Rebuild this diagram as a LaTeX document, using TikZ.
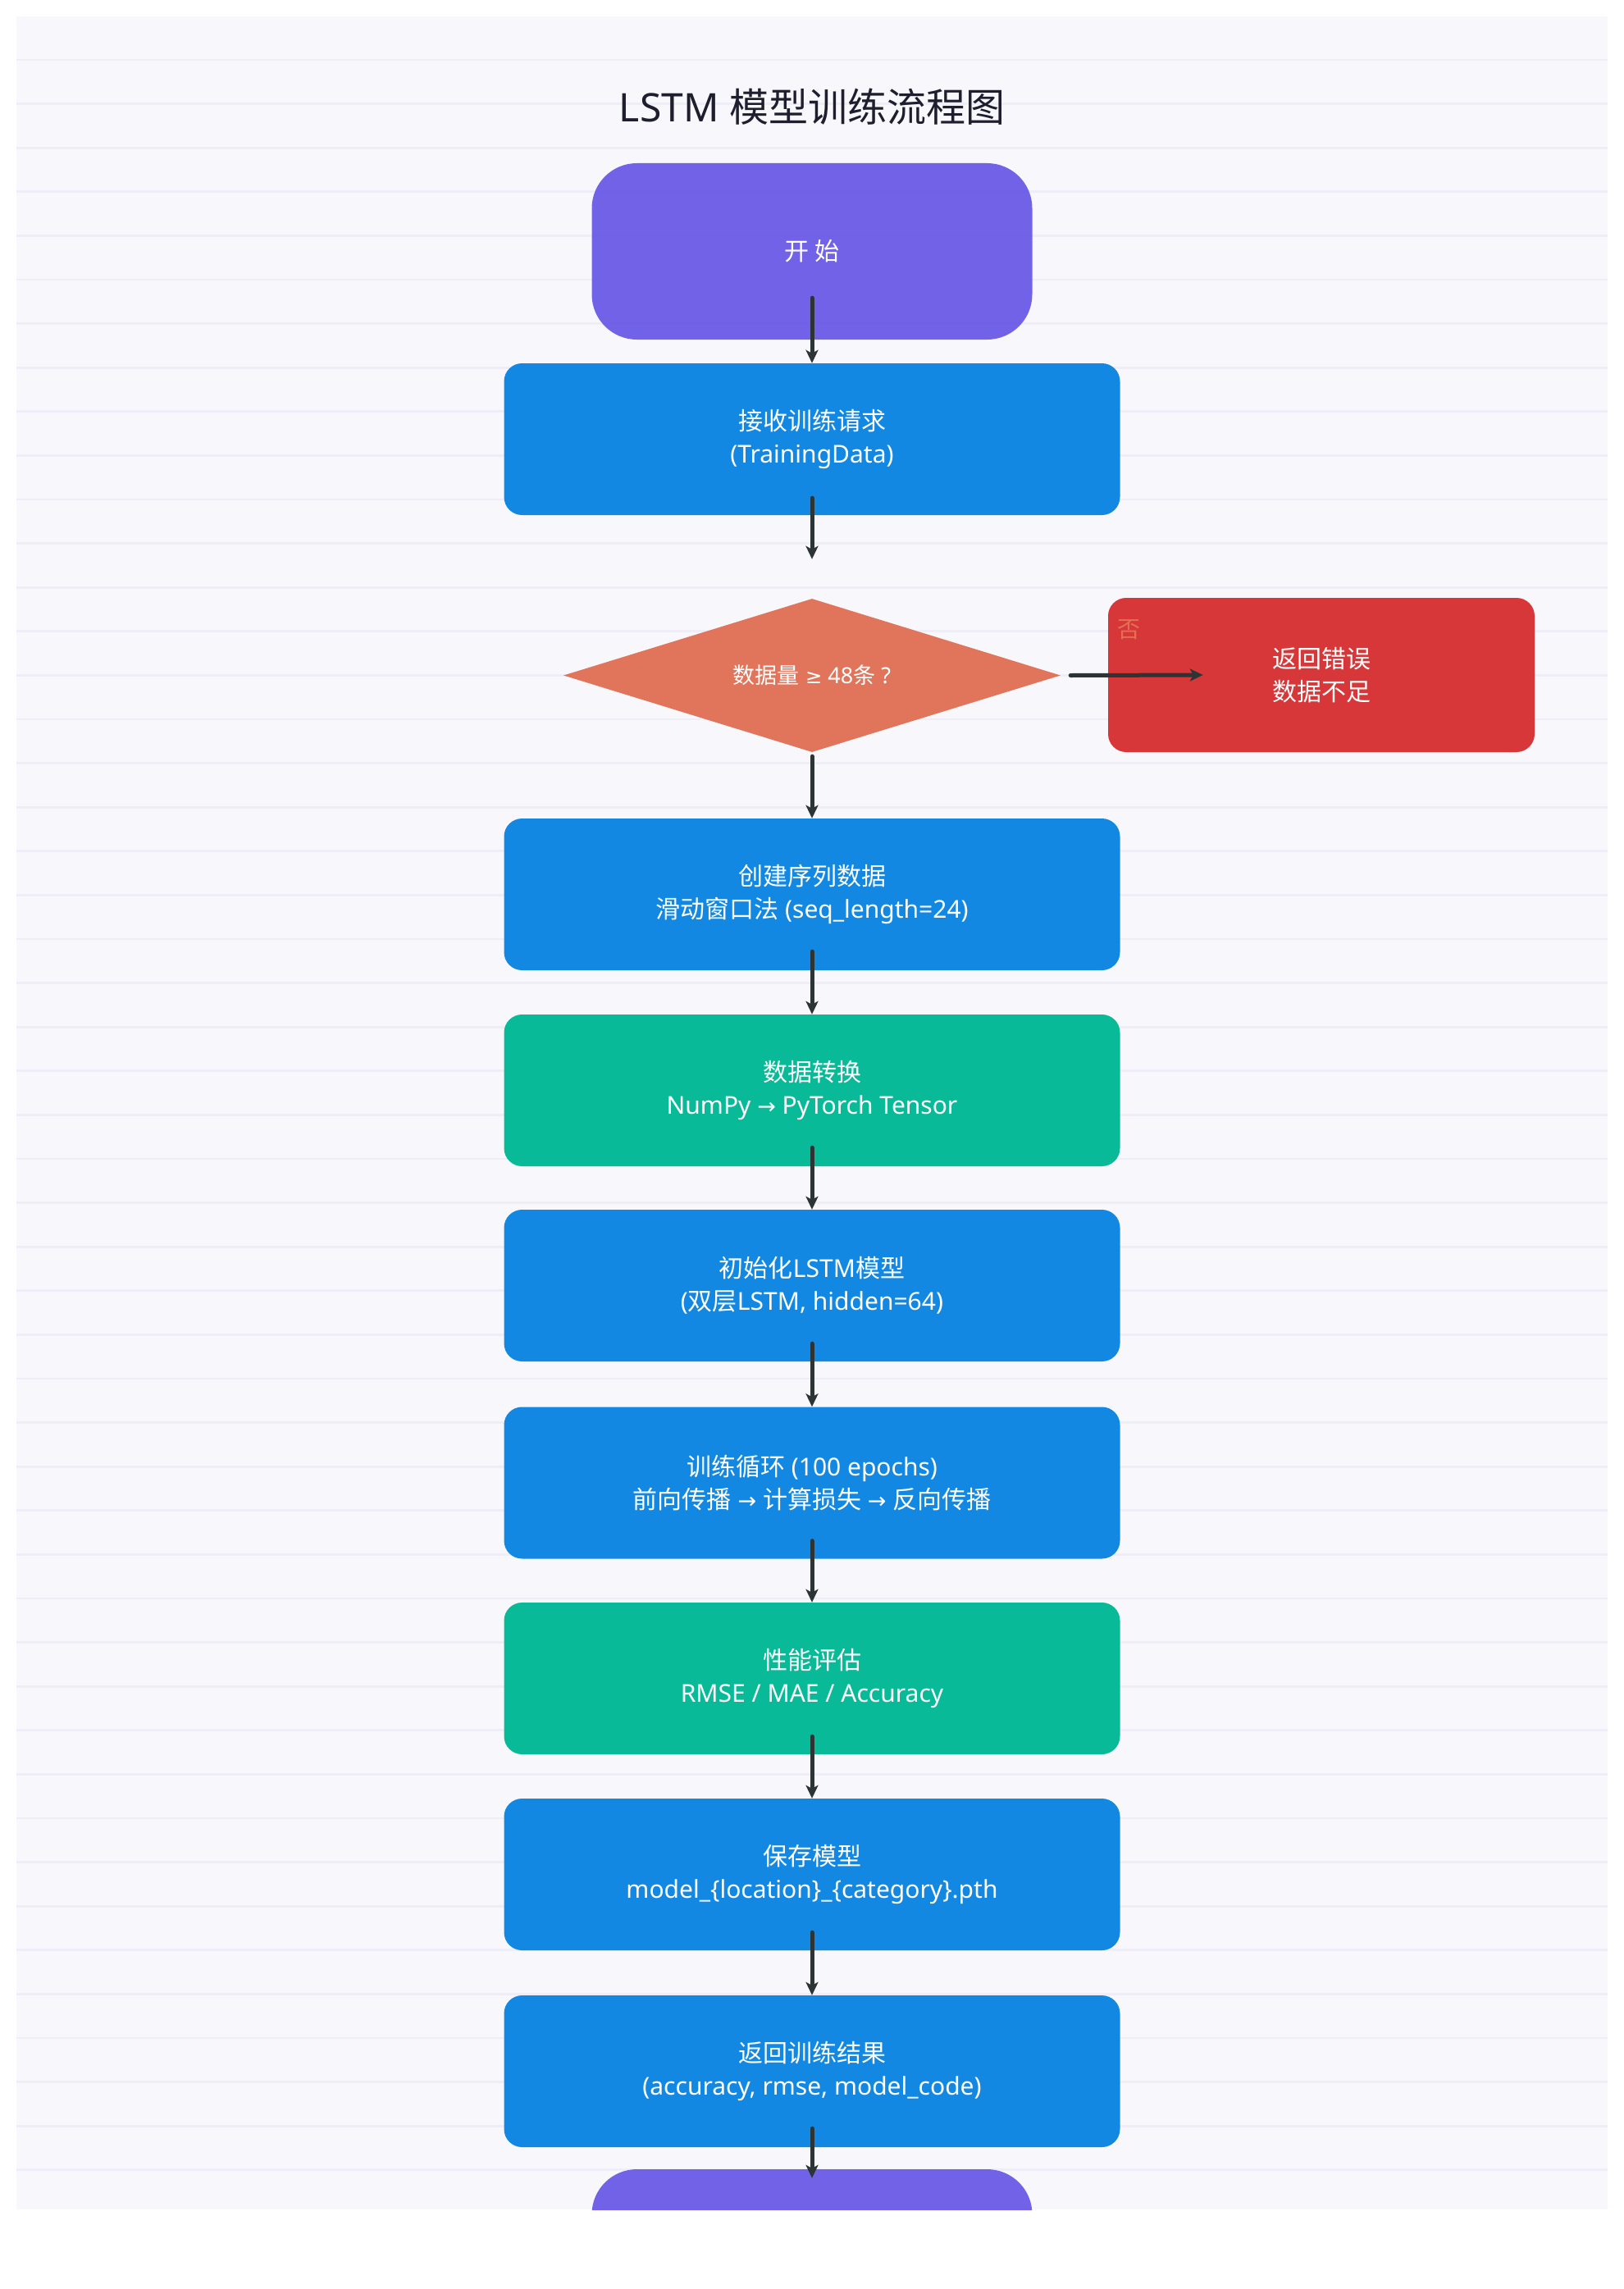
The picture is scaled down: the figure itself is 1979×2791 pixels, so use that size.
\documentclass[tikz,border=0pt]{standalone}
\usepackage{fontspec}
\setmainfont{Noto Sans}
\newfontfamily\cjk{Noto Sans CJK SC}
\newfontfamily\symf[Scale=0.9]{DejaVu Sans}
\usetikzlibrary{shapes.geometric,arrows.meta}
\definecolor{panelbg}{HTML}{F8F8FC}
\definecolor{gridln}{HTML}{EFEEF8}
\definecolor{termcol}{HTML}{6C5CE7}
\definecolor{procol}{HTML}{0984E3}
\definecolor{datacol}{HTML}{00B894}
\definecolor{checkcol}{HTML}{E17055}
\definecolor{errcol}{HTML}{D63031}
\definecolor{flowcol}{HTML}{2D3436}
\definecolor{titlecol}{HTML}{1E1E2E}
\newcommand{\rarr}{{\symf →}}

\begin{document}
\begin{tikzpicture}[x=1pt,y=-1pt]
		\tikzset{box/.style = {rounded corners=22pt, minimum width=751pt, minimum height=185pt, inner sep=0pt, align=center, text=white, fill opacity=0.96, text opacity=1, font=\fontsize{30}{40}\selectfont}}
		\tikzset{procbox/.style = {box, fill=procol}}
		\tikzset{databox/.style = {box, fill=datacol}}
		\tikzset{terminal/.style = {box, fill=termcol, rounded corners=55pt, minimum width=537pt, minimum height=215pt}}
		\tikzset{check/.style = {shape=diamond, aspect=3.24, fill=checkcol, minimum width=606pt, minimum height=187pt, inner sep=0pt, text=white, fill opacity=0.96, text opacity=1, font=\fontsize{27}{36}\selectfont}}
		\tikzset{errbox/.style = {box, fill=errcol, minimum width=520pt, minimum height=188pt}}
		\tikzset{flow/.style = {-{Stealth[length=16pt,width=15pt,inset=4pt]}, line width=5pt, draw=flowcol, line cap=round}}
		\fill[white] (0,0) rectangle (1979,2791);
		\useasboundingbox (0,0) rectangle (1979,2791);
		\fill[panelbg] (20,20) rectangle (1960,2694);
		\foreach \k in {0,...,48}
			\draw[gridln, line width=2.7pt] (20,{73+53.6*\k}) -- (1960,{73+53.6*\k});
		\node[text=titlecol, font=\fontsize{48}{58}\selectfont] (title) at (990,130) {LSTM {\cjk 模型训练流程图}};
		\node[terminal] (start) at (990,306.5) {{\cjk 开 始}};
		\node[procbox] (recv) at (990,535.5) {{\cjk 接收训练请求}\\(TrainingData)};
		\node[check] (enough) at (990,823.5) {{\cjk 数据量} {\symf ≥} 48{\cjk 条} ?};
		\node[errbox] (err) at (1611,823) {{\cjk 返回错误}\\{\cjk 数据不足}};
		\node[procbox] (seq) at (990,1090.5) {{\cjk 创建序列数据}\\{\cjk 滑动窗口法} (seq\_length=24)};
		\node[databox] (conv) at (990,1329.5) {{\cjk 数据转换}\\NumPy \rarr{} PyTorch Tensor};
		\node[procbox] (init) at (990,1567.5) {{\cjk 初始化}LSTM{\cjk 模型}\\({\cjk 双层}LSTM, hidden=64)};
		\node[procbox] (train) at (990,1808) {{\cjk 训练循环} (100 epochs)\\{\cjk 前向传播} \rarr{} {\cjk 计算损失} \rarr{} {\cjk 反向传播}};
		\node[databox] (eval) at (990,2046.5) {{\cjk 性能评估}\\RMSE / MAE / Accuracy};
		\node[procbox] (save) at (990,2285.5) {{\cjk 保存模型}\\model\_\{location\}\_\{category\}.pth};
		\node[procbox] (result) at (990,2525.5) {{\cjk 返回训练结果}\\(accuracy, rmse, model\_code)};
		\begin{scope}
			\clip (20,20) rectangle (1960,2694);
			\node[terminal] (stop) at (990,2752.5) {};
		\end{scope}
		\draw[flow] ([yshift=51pt]start.south) -- (recv.north);
		\draw[flow] ([yshift=21pt]recv.south) -- ([yshift=48pt]enough.north);
		\draw[flow] ([yshift=-5pt]enough.south) -- (seq.north);
		\draw[flow] ([xshift=12pt]enough.east) -- node[pos=0.44, yshift=56pt, text=checkcol, font=\fontsize{28}{30}\selectfont\cjk] {否} ([xshift=116pt]err.west);
		\draw[flow] ([yshift=23pt]seq.south) -- (conv.north);
		\draw[flow] ([yshift=23pt]conv.south) -- (init.north);
		\draw[flow] ([yshift=22pt]init.south) -- (train.north);
		\draw[flow] ([yshift=22pt]train.south) -- (eval.north);
		\draw[flow] ([yshift=22pt]eval.south) -- (save.north);
		\draw[flow] ([yshift=22pt]save.south) -- (result.north);
		\draw[flow] ([yshift=23pt]result.south) -- ([yshift=-11pt]stop.north);
	\end{tikzpicture}
\end{document}
